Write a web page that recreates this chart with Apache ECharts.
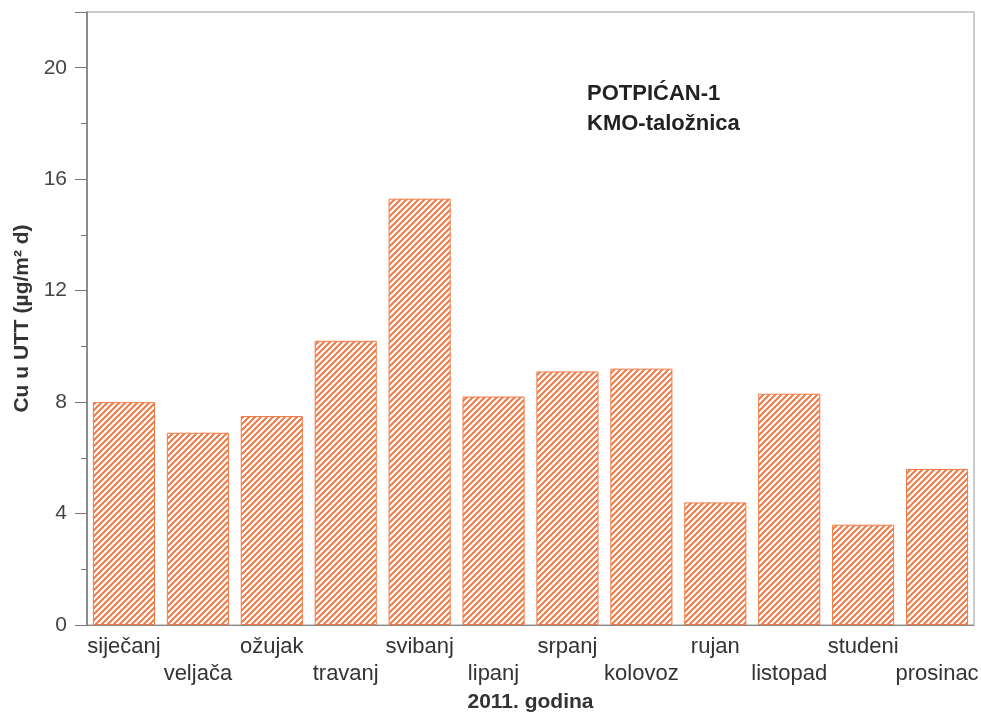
<!DOCTYPE html>
<html>
<head>
<meta charset="utf-8">
<script src="https://cdn.jsdelivr.net/npm/echarts@6/dist/echarts.min.js"></script>
<style>
  html, body { margin: 0; padding: 0; background: #fff; }
  #chart { width: 981px; height: 714px; }
</style>
</head>
<body>
<div id="chart"></div>
<script>
// podaci
const months = ['siječanj', 'veljača', 'ožujak', 'travanj', 'svibanj', 'lipanj',
  'srpanj', 'kolovoz', 'rujan', 'listopad', 'studeni', 'prosinac'];
const cuValues = [8.0, 6.9, 7.5, 10.2, 15.3, 8.2, 9.1, 9.2, 4.4, 8.3, 3.6, 5.6];
const titleLines = ['POTPIĆAN-1', 'KMO-taložnica'];

const FONT = '"Liberation Sans", Arial, sans-serif';
const ORANGE = '#F07A45';

// šrafura za stupce
const makeHatch = () => {
  const s = 6;
  const c = document.createElement('canvas');
  c.width = s; c.height = s;
  const ctx = c.getContext('2d');
  ctx.strokeStyle = ORANGE;
  ctx.lineWidth = 2;
  ctx.beginPath();
  ctx.moveTo(0, s); ctx.lineTo(s, 0);
  ctx.moveTo(-1, 1); ctx.lineTo(1, -1);
  ctx.moveTo(s - 1, s + 1); ctx.lineTo(s + 1, s - 1);
  ctx.stroke();
  return c;
};

const chart = echarts.init(document.getElementById('chart'));

const option = {
  animation: false,
  backgroundColor: '#fff',
  title: {
    text: titleLines.join('\n'),
    left: 587,
    top: 79,
    padding: 0,
    textStyle: { fontFamily: FONT, fontSize: 22, fontWeight: 'bold', color: '#222', lineHeight: 30 },
  },
  grid: {
    left: 87, right: 7, top: 12, bottom: 89,
    outerBoundsMode: 'none',
    show: true, borderColor: '#999', borderWidth: 1,
  },
  xAxis: {
    type: 'category',
    data: months,
    name: '2011. godina',
    nameLocation: 'middle',
    nameGap: 60,
    nameTextStyle: { fontFamily: FONT, fontSize: 21, fontWeight: 'bold', color: '#333' },
    axisLine: { lineStyle: { color: '#888', width: 1 } },
    axisTick: { length: 8, lineStyle: { color: '#666' } },
    axisLabel: {
      interval: 0,
      margin: 8,
      fontFamily: FONT,
      fontSize: 22,
      color: '#333',
      lineHeight: 27,
      formatter: (v, i) => (i % 2 ? '\n' + v : v),
    },
  },
  yAxis: {
    type: 'value',
    min: 0,
    max: 22,
    interval: 4,
    name: 'Cu u UTT (µg/m² d)',
    nameLocation: 'middle',
    nameGap: 53,
    nameTextStyle: { fontFamily: FONT, fontSize: 21, fontWeight: 'bold', color: '#333' },
    axisLine: { show: true, lineStyle: { color: '#777', width: 1.5 } },
    axisTick: { show: true, length: 12, lineStyle: { color: '#777' } },
    minorTick: { show: true, splitNumber: 2, length: 6, lineStyle: { color: '#777' } },
    splitLine: { show: false },
    axisLabel: {
      margin: 20,
      fontFamily: FONT,
      fontSize: 21,
      color: '#444',
      showMaxLabel: false,
    },
  },
  series: [
    {
      type: 'bar',
      data: cuValues,
      barCategoryGap: '16%',
      itemStyle: {
        color: { image: makeHatch(), repeat: 'repeat' },
        borderColor: ORANGE,
        borderWidth: 1,
      },
    },
  ],
};

chart.setOption(option);
</script>
</body>
</html>
